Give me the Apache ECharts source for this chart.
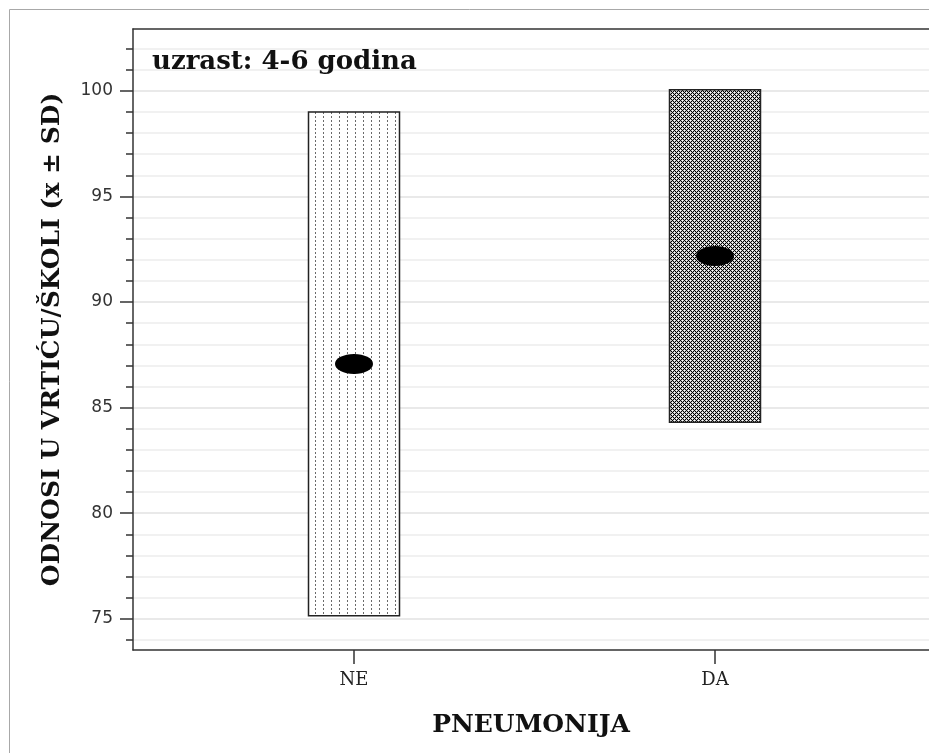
<!DOCTYPE html>
<html>
<head>
<meta charset="utf-8">
<script src="https://cdn.jsdelivr.net/npm/echarts@6/dist/echarts.min.js"></script>
<style>
html,body{margin:0;padding:0;background:#fff;}
#c{width:929px;height:753px;}
</style>
</head>
<body>
<div id="c"></div>
<script>
// ---- data ----
var categories = ['NE', 'DA'];
var means = [87.07, 92.18];
var sds = [11.93, 7.87];
var yTicks = [75, 80, 85, 90, 95, 100];
var titleText = 'uzrast: 4-6 godina';
var yName = 'ODNOSI U VRTIĆU/ŠKOLI (x ± SD)';
var xName = 'PNEUMONIJA';

// ---- patterns ----
function makeDotted() {
  var c = document.createElement('canvas');
  c.width = 8; c.height = 4;
  var g = c.getContext('2d');
  g.fillStyle = '#ffffff'; g.fillRect(0, 0, 8, 4);
  g.fillStyle = '#6a6a6a'; g.fillRect(3, 0, 1, 2);
  return c;
}
function makeHatch() {
  var c = document.createElement('canvas');
  c.width = 4; c.height = 4;
  var g = c.getContext('2d');
  g.fillStyle = '#c4c4c4'; g.fillRect(0, 0, 4, 4);
  g.fillStyle = '#000000';
  [[0,0],[1,1],[2,2],[3,3],[1,3],[3,1]].forEach(function (p) { g.fillRect(p[0], p[1], 1, 1); });
  g.fillStyle = '#ffffff';
  g.fillRect(2, 0, 1, 1); g.fillRect(0, 2, 1, 1);
  return c;
}
var patterns = [
  { image: makeDotted(), repeat: 'repeat' },
  { image: makeHatch(), repeat: 'repeat' }
];

var boxData = categories.map(function (c, i) { return [i, means[i], sds[i]]; });
var meanData = categories.map(function (c, i) { return [i, means[i]]; });

var axisColor = '#333';
var chart = echarts.init(document.getElementById('c'), null, { renderer: 'canvas' });
chart.setOption({
  animation: false,
  backgroundColor: '#ffffff',
  title: {
    text: titleText,
    left: 152, top: 49, padding: 0,
    textStyle: { fontFamily: 'DejaVu Serif', fontWeight: 'bold', fontSize: 26, color: '#111' }
  },
  graphic: [{
    type: 'rect', silent: true, z: -10,
    shape: { x: 9.5, y: 9.5, width: 1000, height: 1000 },
    style: { fill: 'none', stroke: '#a8a8a8', lineWidth: 1 }
  }],
  grid: {
    left: 133, top: 29, right: 0, height: 621,
    show: false
  },
  xAxis: [{
    type: 'value', min: -0.6122, max: 1.5928,
    splitLine: { show: false },
    axisLine: { show: true, onZero: false, lineStyle: { color: axisColor, width: 1.5 } },
    axisTick: { show: true, customValues: [0, 1], length: 14, lineStyle: { color: axisColor, width: 1.5 } },
    axisLabel: {
      customValues: [0, 1], margin: 21,
      formatter: function (v) { return categories[Math.round(v)]; },
      fontFamily: 'DejaVu Serif', fontSize: 18, color: '#222'
    },
    name: xName, nameLocation: 'middle', nameGap: 63,
    nameTextStyle: { fontFamily: 'DejaVu Serif', fontWeight: 'bold', fontSize: 25, color: '#111' }
  }, {
    type: 'value', position: 'top', min: -0.6122, max: 1.5928,
    splitLine: { show: false },
    axisLine: { show: true, onZero: false, lineStyle: { color: axisColor, width: 1.5 } },
    axisTick: { show: false },
    axisLabel: { show: false }
  }],
  yAxis: {
    type: 'value', min: 73.52, max: 102.93,
    minInterval: 5, maxInterval: 5, splitNumber: 6,
    axisLine: { show: true, onZero: false, lineStyle: { color: axisColor, width: 1.5 } },
    axisTick: { show: true, customValues: yTicks, length: 13, lineStyle: { color: axisColor, width: 1.5 } },
    minorTick: { show: true, splitNumber: 5, length: 7, lineStyle: { color: axisColor, width: 1.5 } },
    axisLabel: {
      customValues: yTicks, margin: 20,
      fontFamily: 'DejaVu Sans', fontSize: 17, color: '#333'
    },
    splitLine: { show: true, lineStyle: { color: '#e2e2e2', width: 1.5 } },
    minorSplitLine: { show: true, lineStyle: { color: '#ededed', width: 1.5 } },
    name: yName, nameLocation: 'middle', nameGap: 68, nameRotate: 90,
    nameTextStyle: { fontFamily: 'DejaVu Serif', fontWeight: 'bold', fontSize: 25, color: '#111' }
  },
  series: [{
    type: 'custom',
    data: boxData,
    z: 2,
    renderItem: function (params, api) {
      var x = api.value(0), m = api.value(1), s = api.value(2);
      var pTop = api.coord([x, m + s]);
      var pBot = api.coord([x, m - s]);
      var w = 91;
      return {
        type: 'rect',
        shape: { x: pTop[0] - w / 2, y: pTop[1], width: w, height: pBot[1] - pTop[1] },
        style: { fill: patterns[params.dataIndex], stroke: '#222', lineWidth: 1.5 }
      };
    }
  }, {
    type: 'scatter',
    data: meanData,
    z: 3,
    symbol: 'circle',
    symbolSize: [38, 20],
    itemStyle: { color: '#000', opacity: 1, borderWidth: 0 },
    emphasis: { disabled: true }
  }]
});
</script>
</body>
</html>
